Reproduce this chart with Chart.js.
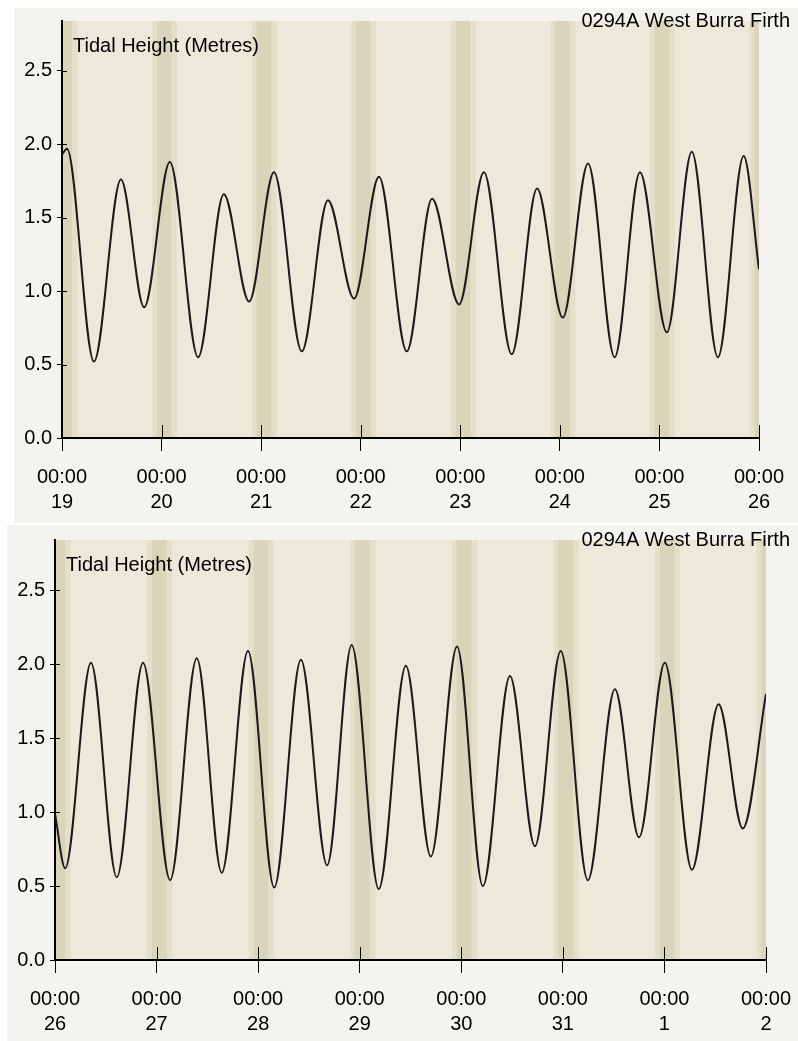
<!DOCTYPE html>
<html>
<head>
<meta charset="utf-8">
<title>0294A West Burra Firth - tidal height</title>
<script src="https://cdn.jsdelivr.net/npm/chart.js@4.4.1/dist/chart.umd.min.js"></script>
<style>
  html, body { margin: 0; padding: 0; background: #ffffff; }
  body { width: 798px; height: 1041px; position: relative; overflow: hidden; }
  .panel { position: absolute; background: #f4f3ef; }
  canvas { position: absolute; left: 0; }
</style>
</head>
<body>
<div class="panel" style="left:14px; top:8px; width:784px; height:515px;"></div>
<div class="panel" style="left:7px; top:525px; width:791px; height:516px;"></div>
<canvas id="weekOne" width="798" height="523" style="top:0"></canvas>
<canvas id="weekTwo" width="798" height="518" style="top:523px"></canvas>
<script>
// Station and axis text
const stationName = '0294A West Burra Firth';
const axisCaption = 'Tidal Height (Metres)';

// Day-of-month labels under each midnight tick
const weekOneDays = ['19', '20', '21', '22', '23', '24', '25', '26'];
const weekTwoDays = ['26', '27', '28', '29', '30', '31', '1', '2'];

// High / low waters (hours from first midnight, metres)
const weekOneHours = [0, 1.2, 7.7, 14.2, 19.8, 26.0, 32.8, 39.0, 45.1, 51.1, 57.8, 64.1, 70.4, 76.4,
  83.1, 89.2, 95.7, 101.7, 108.4, 114.5, 120.7, 126.8, 133.2, 139.3, 145.8, 151.8, 158.1, 164.3, 168];
const weekOneHeights = [1.93, 1.97, 0.52, 1.76, 0.89, 1.88, 0.55, 1.66, 0.93, 1.81, 0.59, 1.62, 0.95, 1.78,
  0.59, 1.63, 0.91, 1.81, 0.57, 1.70, 0.82, 1.87, 0.55, 1.81, 0.72, 1.95, 0.55, 1.92, 1.15];

const weekTwoHours = [0, 2.4, 8.5, 14.6, 20.8, 27.2, 33.5, 39.4, 45.6, 51.8, 58.1, 64.3, 70.1, 76.5,
  82.9, 88.8, 95.0, 101.1, 107.5, 113.4, 119.5, 125.9, 132.3, 138.0, 144.1, 150.5, 156.8, 162.5, 168];
const weekTwoHeights = [0.99, 0.62, 2.01, 0.56, 2.01, 0.54, 2.04, 0.59, 2.09, 0.49, 2.03, 0.64, 2.13, 0.48,
  1.99, 0.70, 2.12, 0.50, 1.92, 0.77, 2.09, 0.54, 1.83, 0.83, 2.01, 0.61, 1.73, 0.89, 1.80];

// Darkness either side of each midnight (hours relative to 00:00)
const twilightSpan = [-2.2, 3.7];
const nightSpan = [-1.1, 2.4];

const colors = {
    plot: '#ece8da',
    twilight: '#e3dfc9',
    night: '#dad5ba',
    ink: '#000000',
    tide: '#1a1a1a'
};
const FONT = '"Liberation Sans", Arial, sans-serif';

// background, night shading, inward tick marks and captions
const tideDecor = {
    id: 'tideDecor',
    beforeDraw(chart) {
        const { ctx, chartArea: a, scales: { x } } = chart;
        ctx.save();
        ctx.fillStyle = colors.plot;
        ctx.fillRect(a.left, a.top, a.right - a.left, a.bottom - a.top);
        ctx.beginPath();
        ctx.rect(a.left, a.top, a.right - a.left, a.bottom - a.top);
        ctx.clip();
        const shade = (from, to, fill) => {
            const x0 = x.getPixelForValue(from);
            const x1 = x.getPixelForValue(to);
            ctx.fillStyle = fill;
            ctx.fillRect(x0, a.top, x1 - x0, a.bottom - a.top);
        };
        x.ticks.forEach(t => {
            shade(t.value + twilightSpan[0], t.value + twilightSpan[1], colors.twilight);
            shade(t.value + nightSpan[0], t.value + nightSpan[1], colors.night);
        });
        ctx.restore();
    },
    afterDraw(chart) {
        const { ctx, chartArea: a, scales: { x, y } } = chart;
        ctx.save();
        ctx.strokeStyle = colors.ink;
        ctx.lineWidth = 1;
        ctx.beginPath();
        x.ticks.forEach(t => {
            if (t.value === x.min) return;
            const px = Math.round(x.getPixelForValue(t.value)) + 0.5;
            ctx.moveTo(px, a.bottom);
            ctx.lineTo(px, a.bottom - 13);
        });
        y.ticks.forEach(t => {
            const py = Math.round(y.getPixelForValue(t.value)) + 0.5;
            ctx.moveTo(a.left, py);
            ctx.lineTo(a.left + 5, py);
        });
        ctx.stroke();

        ctx.fillStyle = colors.ink;
        ctx.font = '20px ' + FONT;
        ctx.textBaseline = 'middle';
        ctx.textAlign = 'left';
        ctx.fillText(axisCaption, a.left + 11, a.top + 25);
        ctx.textAlign = 'right';
        ctx.fillText(stationName, 790, a.top);
        ctx.restore();
    }
};

function buildTideChart(canvasId, hours, heights, days, pad) {
    const points = hours.map((h, i) => ({ x: h, y: heights[i] }));
    return new Chart(document.getElementById(canvasId), {
        type: 'line',
        data: {
            datasets: [{
                data: points,
                borderColor: colors.tide,
                borderWidth: 2,
                pointRadius: 0,
                fill: false,
                cubicInterpolationMode: 'monotone'
            }]
        },
        options: {
            responsive: false,
            animation: false,
            devicePixelRatio: 1,
            layout: { padding: { left: 0, right: pad.right, top: pad.top, bottom: 0 } },
            plugins: {
                legend: { display: false },
                tooltip: { enabled: false }
            },
            scales: {
                x: {
                    type: 'linear',
                    min: 0,
                    max: 168,
                    afterFit: scale => {
                        scale.height = pad.xHeight;
                        // end labels may hang over the margins, as in the original
                        scale.paddingLeft = 0;
                        scale.paddingRight = 0;
                    },
                    grid: { display: true, drawOnChartArea: false, drawTicks: true, tickLength: 13, color: colors.ink, lineWidth: 1 },
                    border: { display: true, color: colors.ink, width: 2 },
                    ticks: {
                        stepSize: 24,
                        autoSkip: false,
                        maxRotation: 0,
                        padding: 14,
                        color: colors.ink,
                        font: { family: FONT, size: 20, lineHeight: 1.25 },
                        callback: v => ['00:00', days[Math.round(v / 24)]]
                    }
                },
                y: {
                    min: 0,
                    max: 2.84,
                    afterFit: scale => { scale.width = pad.yWidth; },
                    grid: { display: true, drawOnChartArea: false, drawTicks: true, tickLength: 5, color: colors.ink, lineWidth: 1 },
                    border: { display: true, color: colors.ink, width: 2 },
                    ticks: {
                        stepSize: 0.5,
                        includeBounds: false,
                        padding: 5,
                        color: colors.ink,
                        font: { family: FONT, size: 20 },
                        callback: v => v.toFixed(1)
                    }
                }
            }
        },
        plugins: [tideDecor]
    });
}

buildTideChart('weekOne', weekOneHours, weekOneHeights, weekOneDays, { top: 21, right: 39, yWidth: 62, xHeight: 85 });
buildTideChart('weekTwo', weekTwoHours, weekTwoHeights, weekTwoDays, { top: 14, right: 32, yWidth: 55, xHeight: 81 });
</script>
</body>
</html>
